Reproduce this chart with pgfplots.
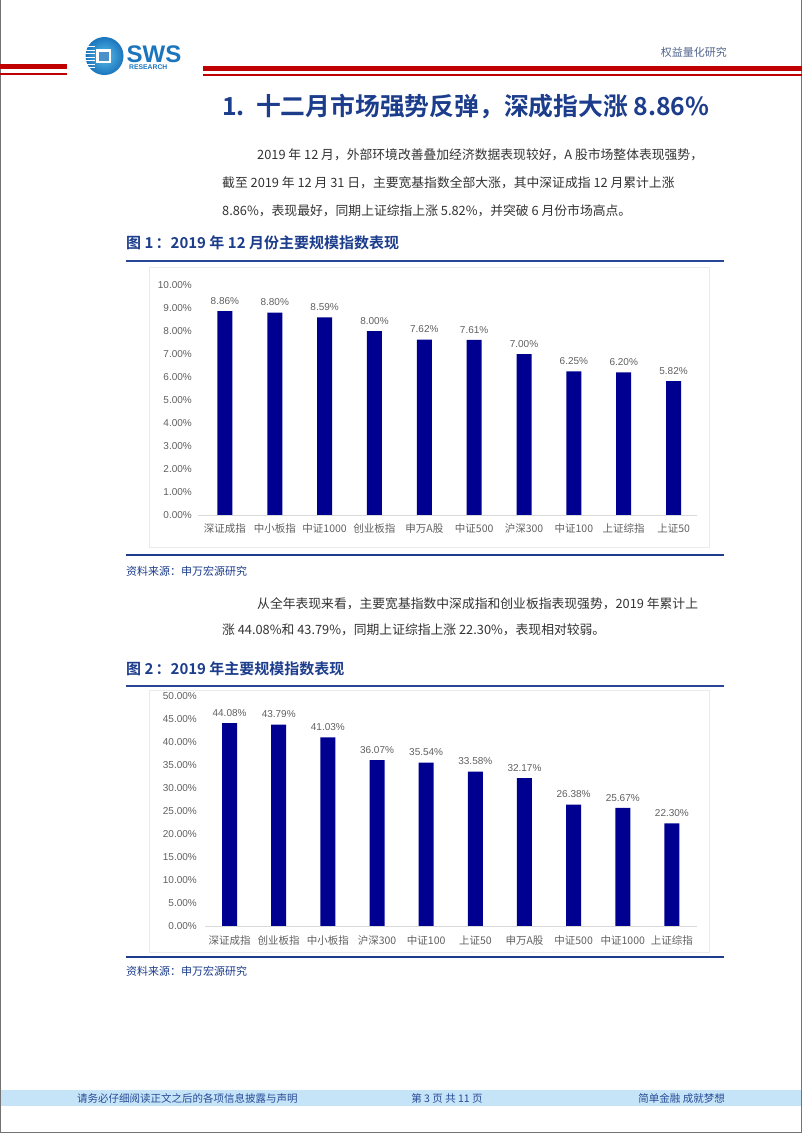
\documentclass[border=0pt]{standalone}
\usepackage{pgfplots}
\pgfplotsset{compat=1.18}
\usepackage{pgfplotstable}
\usepackage{fontspec}
\setmainfont{Noto Sans CJK SC}[BoldFont={Noto Sans CJK SC Bold}]
\newfontfamily\arialf{Liberation Sans}
\newfontfamily\cjk{Noto Sans CJK SC}
\definecolor{barblue}{RGB}{0,0,144}
\definecolor{titleblue}{RGB}{28,60,140}
\definecolor{capblue}{RGB}{28,60,140}
\definecolor{ruleblue}{RGB}{40,70,150}
\definecolor{hdrred}{RGB}{192,0,0}
\definecolor{footband}{RGB}{198,228,248}
\definecolor{footblue}{RGB}{40,75,150}
\definecolor{bodytext}{RGB}{50,50,50}
\definecolor{ticktext}{RGB}{95,95,95}
\definecolor{logoblue}{RGB}{27,117,188}
\definecolor{logolight}{RGB}{90,190,235}
\definecolor{hdrgray}{RGB}{80,100,140}

\pgfplotstableread{
x y
0 8.86
1 8.80
2 8.59
3 8.00
4 7.62
5 7.61
6 7.00
7 6.25
8 6.20
9 5.82
}\dataA
\pgfplotstableread{
x y
0 44.08
1 43.79
2 41.03
3 36.07
4 35.54
5 33.58
6 32.17
7 26.38
8 25.67
9 22.30
}\dataB

\pgfplotsset{mybar/.style={
  scale only axis, ybar, bar width=15pt, bar shift=0pt,
  axis line style={draw=none},
  major tick length=0pt,
  xtick=data, ymin=0,
  clip=false,
  scaled y ticks=false,
  /pgf/number format/assume math mode=true,
  yticklabel={\pgfmathprintnumber[fixed,fixed zerofill,precision=2]{\tick}\%},
  yticklabel style={font=\arialf\fontsize{10}{12}\selectfont, text=ticktext, inner sep=0pt, anchor=east},
  xticklabel style={font=\cjk\fontsize{10.5}{12}\selectfont, text=ticktext, inner sep=0pt, anchor=center, text height=8pt, text depth=2pt},
  nodes near coords={\pgfmathprintnumber[fixed,fixed zerofill,precision=2]{\pgfplotspointmeta}\%},
  every node near coord/.append style={font=\arialf\fontsize{10}{12}\selectfont, text=ticktext, inner sep=0pt, yshift=6.5pt},
}}

\begin{document}
\begin{tikzpicture}[x=1pt,y=1pt]
\path[use as bounding box] (0,0) rectangle (802,-1133);
% page border
\draw[black!55, line width=1.2pt] (0.6,0) -- (0.6,-1132.4) -- (801.4,-1132.4) -- (801.4,0);

% header
\fill[hdrred] (0,-63.5) rectangle (67,-68.5);
\fill[hdrred] (0,-73) rectangle (67,-75);
\fill[hdrred] (203,-65.5) rectangle (802,-71);
\fill[hdrred] (203,-73.5) rectangle (802,-75.5);
% logo
\shade[inner color=logolight, outer color=logoblue] (104.5,-56) circle (19);
\fill[white] (96,-49) rectangle (111,-63);
\fill[logoblue!80] (99,-51.5) rectangle (108.5,-60.5);
\foreach \yy in {-46,-49.5,-53,-56.5,-60,-63.5,-67}{\fill[white] (85,\yy) rectangle (95,\yy-1.4);}
\node[anchor=base west, inner sep=0pt, text height=17pt, text depth=0pt, text=logoblue, font=\arialf\bfseries\fontsize{24}{24}\selectfont] at (126.5,-62) {SWS};
\node[anchor=west, inner sep=0pt, text height=5pt, text depth=0pt, text=logoblue, font=\arialf\bfseries\fontsize{6.8}{7}\selectfont] at (129,-67) {RESEARCH};
\node[anchor=east, inner sep=0pt, text=hdrgray, font=\fontsize{11}{12}\selectfont] at (727,-52) {权益量化研究};

% title
\node[anchor=west, inner sep=0pt, text=titleblue, font=\bfseries\fontsize{24.8}{27}\selectfont] at (222,-107) {1.\hspace{0.45em}十二月市场强势反弹，深成指大涨 8.86\%};

% paragraphs
\begin{scope}[every node/.style={anchor=west, inner sep=0pt, text=bodytext, font=\fontsize{12.8}{14}\selectfont}]
\node at (257,-155) {2019 年 12 月，外部环境改善叠加经济数据表现较好，A 股市场整体表现强势，};
\node at (222,-183) {截至 2019 年 12 月 31 日，主要宽基指数全部大涨，其中深证成指 12 月累计上涨};
\node at (222,-211) {8.86\%，表现最好，同期上证综指上涨 5.82\%，并突破 6 月份市场高点。};
\node at (257,-604) {从全年表现来看，主要宽基指数中深成指和创业板指表现强势，2019 年累计上};
\node at (222,-630) {涨 44.08\%和 43.79\%，同期上证综指上涨 22.30\%，表现相对较弱。};
\end{scope}

% figure 1 caption and frame
\node[anchor=west, inner sep=0pt, text=capblue, font=\bfseries\fontsize{15}{17}\selectfont] at (126,-243) {图 1\hspace{0.15em}：2019 年 12 月份主要规模指数表现};
\draw[ruleblue, line width=1.5pt] (126,-261) -- (724,-261);
\draw[black!8, line width=0.8pt] (149,-267) rectangle (709,-547);
\draw[capblue, line width=1.5pt] (126,-555) -- (724,-555);
\node[anchor=west, inner sep=0pt, text=capblue, font=\fontsize{11}{12}\selectfont] at (126,-571) {资料来源：申万宏源研究};

\begin{axis}[mybar,
  at={(198pt,-515pt)}, anchor=south west,
  width=499pt, height=230pt,
  xmin=-0.54, xmax=9.47, ymax=10,
  ytick={0,1,...,10},
  yticklabel style={xshift=-6pt},
  xticklabel style={yshift=-14pt},
  xticklabels={深证成指,中小板指,中证1000,创业板指,申万A股,中证500,沪深300,中证100,上证综指,上证50},
]
\addplot[fill=barblue, draw=none] table[x=x,y=y] {\dataA};
\draw[black!15, line width=0.8pt] (axis cs:-0.54,0) -- (axis cs:9.47,0);
\end{axis}

% figure 2 caption and frame
\node[anchor=west, inner sep=0pt, text=capblue, font=\bfseries\fontsize{15}{17}\selectfont] at (126,-669) {图 2\hspace{0.15em}：2019 年主要规模指数表现};
\draw[ruleblue, line width=1.5pt] (126,-686) -- (724,-686);
\draw[black!8, line width=0.8pt] (149,-690) rectangle (709,-952);
\draw[capblue, line width=1.5pt] (126,-957) -- (724,-957);
\node[anchor=west, inner sep=0pt, text=capblue, font=\fontsize{11}{12}\selectfont] at (126,-971) {资料来源：申万宏源研究};

\begin{axis}[mybar,
  at={(205pt,-926pt)}, anchor=south west,
  width=492pt, height=230pt,
  xmin=-0.5, xmax=9.51, ymax=50,
  ytick={0,5,...,50},
  yticklabel style={xshift=-8pt},
  xticklabel style={yshift=-15pt},
  xticklabels={深证成指,创业板指,中小板指,沪深300,中证100,上证50,申万A股,中证500,中证1000,上证综指},
]
\addplot[fill=barblue, draw=none] table[x=x,y=y] {\dataB};
\draw[black!15, line width=0.8pt] (axis cs:-0.5,0) -- (axis cs:9.51,0);
\end{axis}

% footer
\fill[footband] (1.2,-1090) rectangle (800.8,-1106);
\begin{scope}[every node/.style={inner sep=0pt, text=footblue, font=\fontsize{10.5}{12}\selectfont}]
\node[anchor=west] at (77,-1098) {请务必仔细阅读正文之后的各项信息披露与声明};
\node at (447,-1098) {第 3 页 共 11 页};
\node[anchor=east] at (725,-1098) {简单金融 成就梦想};
\end{scope}
\end{tikzpicture}
\end{document}
